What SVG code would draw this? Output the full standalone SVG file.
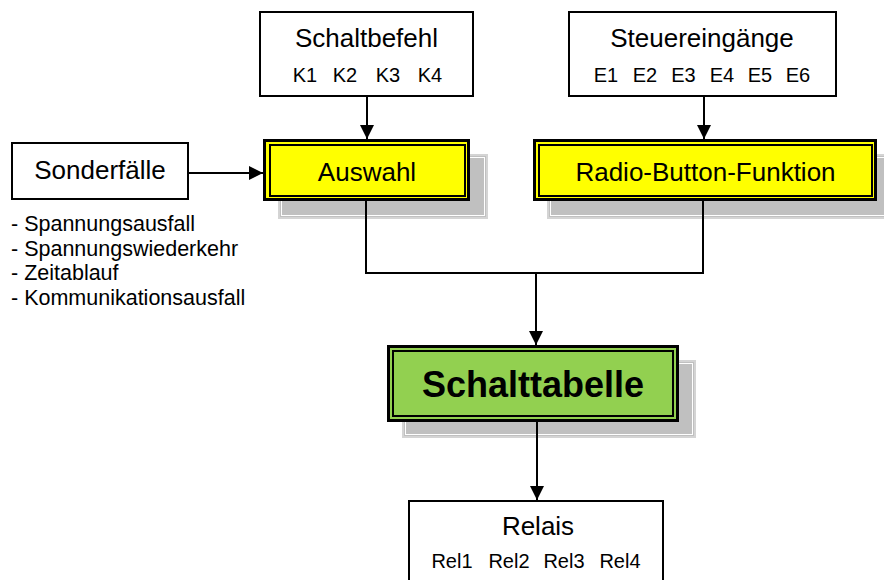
<svg xmlns="http://www.w3.org/2000/svg" width="884" height="580" viewBox="0 0 884 580">
<style>
text{font-family:"Liberation Sans",Arial,sans-serif;fill:#000}
.t{font-size:26px;text-anchor:middle}
.s{font-size:20px;text-anchor:middle}
.l{font-size:21.5px}
.b{font-size:36px;font-weight:bold;text-anchor:middle}
.box{fill:#fff;stroke:#000;stroke-width:2}
.sh{fill:#c0c0c0;stroke:#d4d4d4;stroke-width:2}
.shi{fill:none;stroke:#fff;stroke-width:1}
.o{stroke:#000;stroke-width:3}
.i{fill:none;stroke:#000;stroke-width:2}
.y{fill:#ffff00}
.g{fill:#92d050}
.c{fill:none;stroke:#000;stroke-width:2}
</style>
<defs>
<marker id="ah" markerUnits="userSpaceOnUse" markerWidth="14" markerHeight="14" refX="14" refY="7" orient="auto">
<path d="M0,0 L14,7 L0,14 z" fill="#000"/>
</marker>
</defs>
<g id="schaltbefehl">
<rect class="box" x="260" y="12" width="213" height="84"/>
<text class="t" x="366.5" y="47">Schaltbefehl</text>
<text class="s" y="82"><tspan x="305">K1</tspan><tspan x="345">K2</tspan><tspan x="388">K3</tspan><tspan x="430">K4</tspan></text>
</g>
<g id="steuereingaenge">
<rect class="box" x="569" y="12" width="267" height="84"/>
<text class="t" x="702" y="47">Steuereingänge</text>
<text class="s" y="82"><tspan x="606">E1</tspan><tspan x="645">E2</tspan><tspan x="683.5">E3</tspan><tspan x="722">E4</tspan><tspan x="760">E5</tspan><tspan x="798">E6</tspan></text>
</g>
<g id="sonderfaelle">
<rect class="box" x="12" y="143" width="176" height="56"/>
<text class="t" x="100" y="179">Sonderfälle</text>
<text class="l" x="11" y="231">- Spannungsausfall</text>
<text class="l" x="11" y="256">- Spannungswiederkehr</text>
<text class="l" x="11" y="280">- Zeitablauf</text>
<text class="l" x="11" y="305">- Kommunikationsausfall</text>
</g>
<g id="auswahl">
<rect class="sh" x="279" y="155" width="208" height="63"/>
<rect class="shi" x="281.5" y="157.5" width="203" height="58"/>
<rect class="y o" x="264.5" y="140.5" width="204" height="59"/>
<rect class="i" x="270" y="145" width="195" height="51"/>
<text class="t" x="367" y="181">Auswahl</text>
</g>
<g id="radio">
<rect class="sh" x="548" y="155" width="345" height="63"/>
<rect class="shi" x="550.5" y="157.5" width="340" height="58"/>
<rect class="y o" x="534.5" y="140.5" width="341" height="59"/>
<rect class="i" x="539" y="145" width="333" height="51"/>
<text class="t" x="705.5" y="181">Radio-Button-Funktion</text>
</g>
<g id="schalttabelle">
<rect class="sh" x="403" y="361" width="292" height="76"/>
<rect class="shi" x="405.5" y="363.5" width="287" height="71"/>
<rect class="g o" x="388.5" y="346.5" width="289" height="74"/>
<rect class="i" x="393" y="351" width="280" height="65"/>
<text class="b" x="533" y="397">Schalttabelle</text>
</g>
<g id="relais">
<rect class="box" x="409" y="501" width="254" height="90"/>
<text class="t" x="538" y="535">Relais</text>
<text class="s" y="568"><tspan x="452">Rel1</tspan><tspan x="509">Rel2</tspan><tspan x="564">Rel3</tspan><tspan x="620">Rel4</tspan></text>
</g>
<g id="connectors">
<line class="c" x1="367" y1="96" x2="367" y2="139" marker-end="url(#ah)"/>
<line class="c" x1="704" y1="96" x2="704" y2="139" marker-end="url(#ah)"/>
<line class="c" x1="188" y1="173" x2="263" y2="173" marker-end="url(#ah)"/>
<polyline class="c" points="366,201 366,273 703,273 703,201"/>
<line class="c" x1="536" y1="273" x2="536" y2="345" marker-end="url(#ah)"/>
<line class="c" x1="537" y1="422" x2="537" y2="500" marker-end="url(#ah)"/>
</g>
</svg>
